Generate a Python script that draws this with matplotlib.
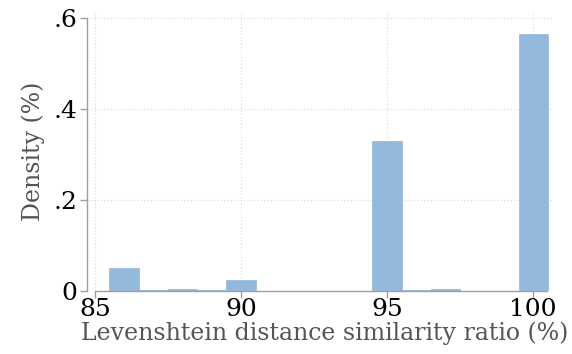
import matplotlib
matplotlib.use("Agg")
import matplotlib.pyplot as plt

# similarity ratio bins (centre of each one-unit bin) and density
ratio = [86, 87, 88, 89, 90, 91, 92, 93, 94, 95, 96, 97, 98, 99, 100]
density = [0.050, 0.002, 0.004, 0.002, 0.024, 0, 0, 0, 0, 0.330, 0.002, 0.005, 0, 0, 0.565]

x_ticks = [85, 90, 95, 100]
x_labels = ["85", "90", "95", "100"]
y_ticks = [0, 0.2, 0.4, 0.6]
y_labels = ["0", ".2", ".4", ".6"]

plt.rcParams['font.family'] = ['DejaVu Serif']

fig = plt.figure(figsize=(5.72, 3.54), dpi=100)
ax = fig.add_axes([87 / 572, 1 - 291 / 354, (553 - 87) / 572, (291 - 12) / 354])

ax.bar(ratio, density, width=1.0, color='#92b8db', edgecolor='#92b8db', linewidth=0.5, zorder=2)

ax.set_xlim(84.73, 100.68)
ax.set_ylim(0, 0.614)

ax.set_xticks(x_ticks)
ax.set_xticklabels(x_labels, fontsize=18)
ax.set_yticks(y_ticks)
ax.set_yticklabels(y_labels, fontsize=18)

ax.grid(True, color='#d8d8d8', linestyle=(0, (1, 2)), linewidth=0.8, zorder=0)

for s in ['top', 'right']:
    ax.spines[s].set_visible(False)
ax.spines['bottom'].set_bounds(85, 100.48)
ax.spines['left'].set_bounds(0, 0.6)
for s in ['bottom', 'left']:
    ax.spines[s].set_color('#a0a0a0')
    ax.spines[s].set_linewidth(1.0)

ax.tick_params(axis='both', colors='#a0a0a0', labelcolor='black', length=5, width=1.0, pad=2)
ax.tick_params(axis='x', pad=0)

ax.set_xlabel('Levenshtein distance similarity ratio (%)', fontsize=17, color='#555555')
ax.xaxis.set_label_coords(0.51, -0.108)
ax.set_ylabel('Density (%)', fontsize=17, color='#555555', labelpad=6)

fig.savefig('out.png', dpi=100)
